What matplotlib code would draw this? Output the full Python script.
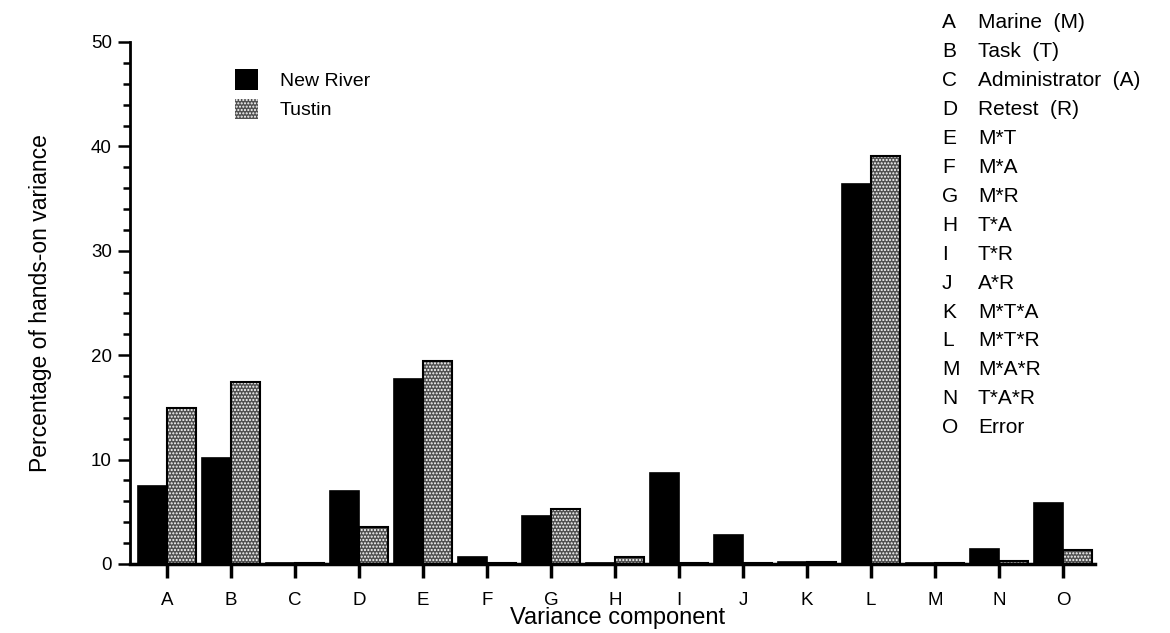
import matplotlib.pyplot as plt
import numpy as np
from matplotlib.ticker import MultipleLocator
from matplotlib.patches import Patch

plt.rcParams['font.family'] = ['Liberation Sans', 'DejaVu Sans']
plt.rcParams['hatch.linewidth'] = 1.0

# Datos
componentes = ["A", "B", "C", "D", "E", "F", "G", "H", "I", "J", "K", "L", "M", "N", "O"]
new_river = [7.5, 10.2, 0.1, 7.0, 17.7, 0.7, 4.6, 0.1, 8.7, 2.8, 0.2, 36.4, 0.1, 1.4, 5.8]
tustin = [14.9, 17.4, 0.1, 3.5, 19.4, 0.1, 5.3, 0.7, 0.1, 0.1, 0.2, 39.1, 0.1, 0.3, 1.3]
nombres = ["Marine  (M)", "Task  (T)", "Administrator  (A)", "Retest  (R)", "M*T", "M*A", "M*R",
           "T*A", "T*R", "A*R", "M*T*A", "M*T*R", "M*A*R", "T*A*R", "Error"]

W, H = 1170, 633
fig = plt.figure(figsize=(W / 100, H / 100), dpi=100)
ax = fig.add_axes([130 / W, 1 - 564 / H, 965 / W, (564 - 42) / H])

x = np.arange(len(componentes))
w = 0.45
ax.bar(x - w / 2, new_river, w, color='black', edgecolor='black', linewidth=1.2)
ax.bar(x + w / 2, tustin, w, color='#505050', edgecolor='white', hatch='.....', linewidth=0)
ax.bar(x + w / 2, tustin, w, fill=False, edgecolor='black', linewidth=1.5)

ax.set_xlim(-0.578, 14.5)
ax.set_ylim(0, 50)
ax.set_xticks(x)
ax.set_xticklabels(componentes)
ax.yaxis.set_major_locator(MultipleLocator(10))
ax.yaxis.set_minor_locator(MultipleLocator(2))
ax.tick_params(axis='y', which='major', length=9, width=1.8, labelsize=13.5, pad=4)
ax.tick_params(axis='y', which='minor', length=5, width=1.8)
ax.tick_params(axis='x', length=10, width=2.5, labelsize=13.5, pad=10)
for s in ['top', 'right']:
    ax.spines[s].set_visible(False)
ax.spines['left'].set_linewidth(2)
ax.spines['bottom'].set_linewidth(2.5)

ax.set_xlabel("Variance component", fontsize=17)
ax.xaxis.set_label_coords(618 / W, 1 - 607 / H, transform=fig.transFigure)
ax.set_ylabel("Percentage of hands-on variance", fontsize=16.5, labelpad=28)

# Leyenda de las dos sedes
h1 = Patch(facecolor='black', edgecolor='black')
h2 = Patch(facecolor='#505050', edgecolor='white', hatch='.....')
leg = ax.legend([h1, h2], ['New River', 'Tustin'], loc='upper left',
                bbox_to_anchor=(235 / W, 1 - 69 / H), bbox_transform=fig.transFigure,
                frameon=False, fontsize=14, borderpad=0, borderaxespad=0,
                handlelength=1.2, handleheight=1.25, handletextpad=1.1, labelspacing=0.45)
for p in leg.get_patches():
    p.set_linewidth(0)

# Leyenda de componentes a la derecha
for i, (c, n) in enumerate(zip(componentes, nombres)):
    yy = 1 - (23 + i * 28.9) / H
    fig.text(942 / W, yy, c, fontsize=15, va='center', ha='left')
    fig.text(978 / W, yy, n, fontsize=15, va='center', ha='left')

plt.savefig('out.png', dpi=100)
